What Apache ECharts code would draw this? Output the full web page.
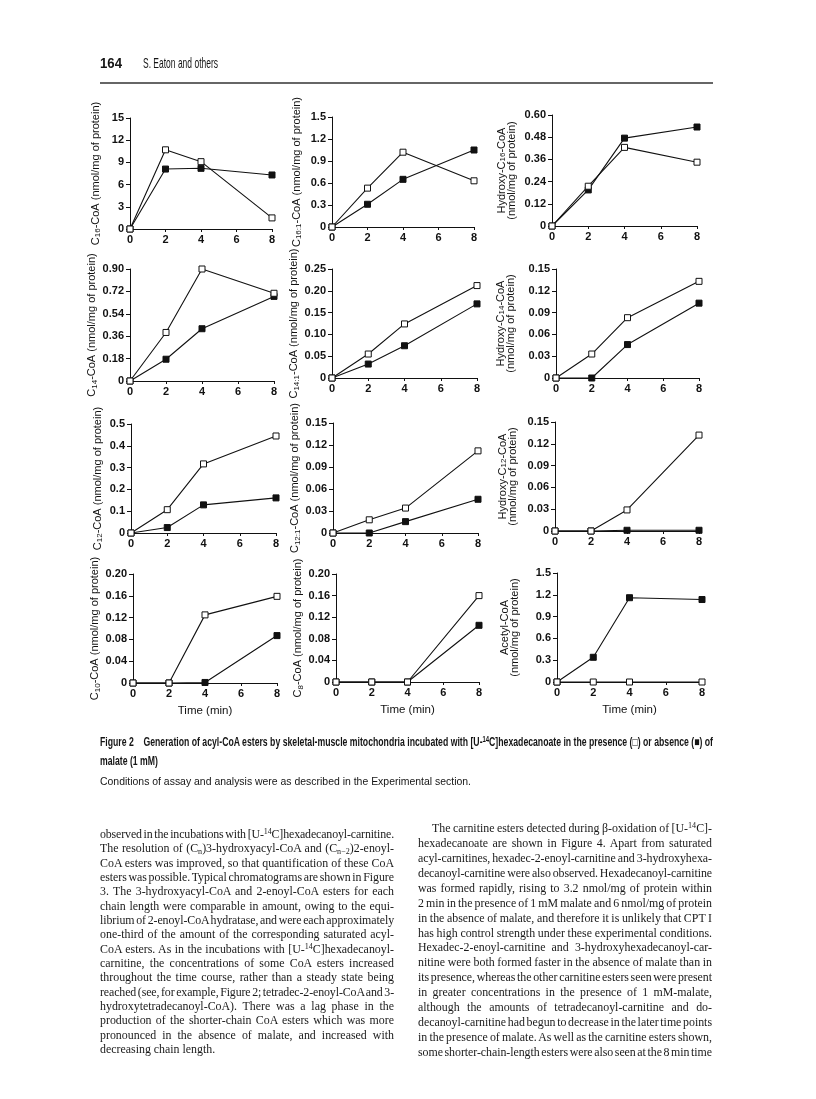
<!DOCTYPE html>
<html><head><meta charset="utf-8">
<script src="https://cdn.jsdelivr.net/npm/echarts@6/dist/echarts.min.js"></script>
<style>
body{margin:0;background:#fff;}
#page{position:relative;width:816px;height:1099px;overflow:hidden;background:#fff;}
#chart{position:absolute;left:0;top:0;width:816px;height:1099px;}
.t{position:absolute;color:#151515;white-space:nowrap;}
.cond{font-family:"Liberation Sans",Arial,sans-serif;transform-origin:0 50%;}
.body{font-family:"Liberation Serif","DejaVu Serif",serif;font-size:11.9px;color:#1a1a1a;line-height:14px;}
.line{position:absolute;width:294px;height:14px;text-align:justify;text-align-last:justify;white-space:nowrap;}
.last{text-align:left;text-align-last:left;}
sup{font-size:0.68em;vertical-align:0.45em;line-height:0;}
sub{font-size:0.68em;vertical-align:-0.2em;line-height:0;}
</style>
</head><body>
<div id="page">
<div id="chart"></div>
<div class="t cond fit" data-w="22" style="left:100px;top:54px;font-size:15px;font-weight:bold;">164</div>
<div class="t cond fit" data-w="75" style="left:143px;top:54px;font-size:15px;">S. Eaton and others</div>
<div style="position:absolute;left:100px;top:82px;width:613px;height:2px;background:#666;"></div>

<div class="t cond fit" data-w="613" style="left:100px;top:735px;font-size:12px;font-weight:bold;">Figure 2&nbsp;&nbsp;&nbsp; Generation of acyl-CoA esters by skeletal-muscle mitochondria incubated with [U-<sup>14</sup>C]hexadecanoate in the presence (□) or absence (■) of</div>
<div class="t cond" id="mal" style="left:100px;top:754px;font-size:12px;font-weight:bold;">malate (1 mM)</div>
<div class="t cond fit" data-w="371" style="left:100px;top:775px;font-size:11px;">Conditions of assay and analysis were as described in the Experimental section.</div>

<div class="body" id="left">
<div class="line" style="left:100px;top:827px">observed in the incubations with [U-<sup>14</sup>C]hexadecanoyl-carnitine.</div>
<div class="line" style="left:100px;top:841.3px">The resolution of (C<sub>n</sub>)3-hydroxyacyl-CoA and (C<sub>n−2</sub>)2-enoyl-</div>
<div class="line" style="left:100px;top:855.7px">CoA esters was improved, so that quantification of these CoA</div>
<div class="line" style="left:100px;top:870px">esters was possible. Typical chromatograms are shown in Figure</div>
<div class="line" style="left:100px;top:884.3px">3. The 3-hydroxyacyl-CoA and 2-enoyl-CoA esters for each</div>
<div class="line" style="left:100px;top:898.7px">chain length were comparable in amount, owing to the equi-</div>
<div class="line" style="left:100px;top:913px">librium of 2-enoyl-CoA hydratase, and were each approximately</div>
<div class="line" style="left:100px;top:927.3px">one-third of the amount of the corresponding saturated acyl-</div>
<div class="line" style="left:100px;top:941.7px">CoA esters. As in the incubations with [U-<sup>14</sup>C]hexadecanoyl-</div>
<div class="line" style="left:100px;top:956px">carnitine, the concentrations of some CoA esters increased</div>
<div class="line" style="left:100px;top:970.3px">throughout the time course, rather than a steady state being</div>
<div class="line" style="left:100px;top:984.7px">reached (see, for example, Figure 2; tetradec-2-enoyl-CoA and 3-</div>
<div class="line" style="left:100px;top:999px">hydroxytetradecanoyl-CoA). There was a lag phase in the</div>
<div class="line" style="left:100px;top:1013.3px">production of the shorter-chain CoA esters which was more</div>
<div class="line" style="left:100px;top:1027.7px">pronounced in the absence of malate, and increased with</div>
<div class="line last" style="left:100px;top:1042px">decreasing chain length.</div>
</div>
<div class="body" id="right">
<div class="line" style="left:432px;top:821px;width:280px">The carnitine esters detected during β-oxidation of [U-<sup>14</sup>C]-</div>
<div class="line" style="left:418px;top:836px">hexadecanoate are shown in Figure 4. Apart from saturated</div>
<div class="line" style="left:418px;top:850.9px">acyl-carnitines, hexadec-2-enoyl-carnitine and 3-hydroxyhexa-</div>
<div class="line" style="left:418px;top:865.8px">decanoyl-carnitine were also observed. Hexadecanoyl-carnitine</div>
<div class="line" style="left:418px;top:880.7px">was formed rapidly, rising to 3.2 nmol/mg of protein within</div>
<div class="line" style="left:418px;top:895.6px">2 min in the presence of 1 mM malate and 6 nmol/mg of protein</div>
<div class="line" style="left:418px;top:910.6px">in the absence of malate, and therefore it is unlikely that CPT I</div>
<div class="line" style="left:418px;top:925.5px">has high control strength under these experimental conditions.</div>
<div class="line" style="left:418px;top:940.4px">Hexadec-2-enoyl-carnitine and 3-hydroxyhexadecanoyl-car-</div>
<div class="line" style="left:418px;top:955.3px">nitine were both formed faster in the absence of malate than in</div>
<div class="line" style="left:418px;top:970.2px">its presence, whereas the other carnitine esters seen were present</div>
<div class="line" style="left:418px;top:985.2px">in greater concentrations in the presence of 1 mM-malate,</div>
<div class="line" style="left:418px;top:1000px">although the amounts of tetradecanoyl-carnitine and do-</div>
<div class="line" style="left:418px;top:1015px">decanoyl-carnitine had begun to decrease in the later time points</div>
<div class="line" style="left:418px;top:1030px">in the presence of malate. As well as the carnitine esters shown,</div>
<div class="line" style="left:418px;top:1045px">some shorter-chain-length esters were also seen at the 8 min time</div>
</div>
</div>
<script>
// ---- data ----
const times = [0, 2, 4, 8];
const xTickLabels = ['0', '2', '4', '6', '8'];

const c16Presence   = [0, 10.7, 9.1, 1.5];
const c16Absence    = [0, 8.1, 8.2, 7.3];
const c161Presence  = [0, 0.53, 1.02, 0.63];
const c161Absence   = [0, 0.31, 0.65, 1.05];
const hc16Presence  = [0, 0.215, 0.425, 0.345];
const hc16Absence   = [0, 0.195, 0.475, 0.535];
const c14Presence   = [0, 0.39, 0.90, 0.705];
const c14Absence    = [0, 0.175, 0.42, 0.68];
const c141Presence  = [0, 0.055, 0.124, 0.212];
const c141Absence   = [0, 0.032, 0.074, 0.17];
const hc14Presence  = [0, 0.033, 0.083, 0.133];
const hc14Absence   = [0, 0, 0.046, 0.103];
const c12Presence   = [0, 0.107, 0.317, 0.445];
const c12Absence    = [0, 0.025, 0.129, 0.161];
const c121Presence  = [0, 0.018, 0.034, 0.112];
const c121Absence   = [0, 0, 0.0155, 0.046];
const hc12Presence  = [0, 0, 0.029, 0.132];
const hc12Absence   = [0, 0, 0.001, 0.001];
const c10Presence   = [0, 0, 0.125, 0.159];
const c10Absence    = [0, 0, 0.001, 0.087];
const c8Presence    = [0, 0, 0, 0.16];
const c8Absence     = [0, 0, 0, 0.105];
const acetylPresence = [0, 0, 0, 0];
const acetylAbsence  = [0, 0.34, 1.16, 1.135];

const yMax      = [15, 1.5, 0.60, 0.90, 0.25, 0.15, 0.5, 0.15, 0.15, 0.20, 0.20, 1.5];
const yStep     = [3, 0.3, 0.12, 0.18, 0.05, 0.03, 0.1, 0.03, 0.03, 0.04, 0.04, 0.3];
const yDecimals = [0, 1, 2, 2, 2, 2, 1, 2, 2, 2, 2, 1];

const yNames = [
  '{n|C}{s|16}{n|-CoA (nmol/mg of protein)}',
  '{n|C}{s|16:1}{n|-CoA (nmol/mg of protein)}',
  '{n|Hydroxy-C}{s|16}{n|-CoA}\n{n|(nmol/mg of protein)}',
  '{n|C}{s|14}{n|-CoA (nmol/mg of protein)}',
  '{n|C}{s|14:1}{n|-CoA (nmol/mg of protein)}',
  '{n|Hydroxy-C}{s|14}{n|-CoA}\n{n|(nmol/mg of protein)}',
  '{n|C}{s|12}{n|-CoA (nmol/mg of protein)}',
  '{n|C}{s|12:1}{n|-CoA (nmol/mg of protein)}',
  '{n|Hydroxy-C}{s|12}{n|-CoA}\n{n|(nmol/mg of protein)}',
  '{n|C}{s|10}{n|-CoA (nmol/mg of protein)}',
  '{n|C}{s|8}{n|-CoA (nmol/mg of protein)}',
  '{n|Acetyl-CoA}\n{n|(nmol/mg of protein)}'
];
const presence = [c16Presence, c161Presence, hc16Presence, c14Presence, c141Presence, hc14Presence,
  c12Presence, c121Presence, hc12Presence, c10Presence, c8Presence, acetylPresence];
const absence = [c16Absence, c161Absence, hc16Absence, c14Absence, c141Absence, hc14Absence,
  c12Absence, c121Absence, hc12Absence, c10Absence, c8Absence, acetylAbsence];
const xName = 'Time (min)';

// ---- layout (pixels): [axisX, x8, top, zeroY] ----
const boxes = [
  [130, 272, 118, 229], [332, 474, 117, 227], [552, 697, 115, 226],
  [130, 274, 269, 381], [332, 477, 269, 378], [556, 699, 269, 378],
  [131, 276, 424, 533], [333, 478, 423, 533], [555, 699, 422, 531],
  [133, 277, 574, 683], [336, 479, 574, 682], [557, 702, 573, 682]
];
const nameCenters = [34, 35, 45, 34.5, 35.5, 50, 33, 35.5, 47, 36, 37.5, 47];

const INK = '#111';
const grid = [], xAxis = [], yAxis = [], series = [];
boxes.forEach((b, i) => {
  const twoLine = yNames[i].indexOf('\n') >= 0;
  grid.push({ left: b[0], width: b[1] - b[0], top: b[2], height: b[3] - b[2], containLabel: false });
  xAxis.push({
    gridIndex: i, type: 'value', min: 0, max: 8, interval: 2,
    name: i >= 9 ? xName : '', nameLocation: 'middle', nameGap: 22,
    nameTextStyle: { fontFamily: 'Liberation Sans', fontSize: 11.5, color: INK },
    axisLine: { show: true, onZero: false, lineStyle: { color: INK, width: 1 } },
    axisTick: { show: true, length: 3, lineStyle: { color: INK } },
    splitLine: { show: false },
    axisLabel: { margin: 5, color: INK, fontFamily: 'Liberation Sans', fontWeight: 'bold', fontSize: 11,
      formatter: v => xTickLabels[v / 2] }
  });
  yAxis.push({
    gridIndex: i, type: 'value', min: 0, max: yMax[i], interval: yStep[i],
    name: yNames[i], nameLocation: 'middle', nameRotate: 90,
    nameGap: nameCenters[i] - (twoLine ? 10 : 6),
    nameTextStyle: {
      color: INK, align: 'center',
      rich: {
        n: { fontFamily: 'Liberation Sans', fontSize: 11, color: INK, lineHeight: twoLine ? 10 : 13, verticalAlign: 'middle' },
        s: { fontFamily: 'Liberation Sans', fontSize: 8, color: INK, lineHeight: twoLine ? 10 : 13, verticalAlign: 'bottom' }
      }
    },
    axisLine: { show: true, lineStyle: { color: INK, width: 1 } },
    axisTick: { show: true, length: 4, lineStyle: { color: INK } },
    splitLine: { show: false },
    axisLabel: { margin: 6, color: INK, fontFamily: 'Liberation Sans', fontWeight: 'bold', fontSize: 11,
      formatter: v => (v === 0 ? '0' : v.toFixed(yDecimals[i])) }
  });
  const mk = (arr, filled) => ({
    type: 'line', xAxisIndex: i, yAxisIndex: i,
    data: times.map((t, j) => [t, arr[j]]),
    symbol: 'rect', symbolSize: 6, clip: false,
    lineStyle: { color: INK, width: 1.1 },
    itemStyle: { color: filled ? INK : '#fff', borderColor: INK, borderWidth: 1 },
    emphasis: { disabled: true }, animation: false, z: filled ? 3 : 4
  });
  series.push(mk(absence[i], true), mk(presence[i], false));
});

const chart = echarts.init(document.getElementById('chart'), null, { renderer: 'canvas' });
chart.setOption({ animation: false, backgroundColor: '#fff', grid, xAxis, yAxis, series });

// condensed-looking headings: horizontally scale to the measured widths
let capScale = 1;
document.querySelectorAll('.fit').forEach(el => {
  const w = el.getBoundingClientRect().width;
  const s = parseFloat(el.dataset.w) / w;
  el.style.transform = 'scaleX(' + s + ')';
  if (el.dataset.w === '613') capScale = s;
});
document.getElementById('mal').style.transform = 'scaleX(' + capScale + ')';

// body text: tighten spacing only on lines that are too long, then justify
document.querySelectorAll('.line').forEach(el => {
  const tw = el.style.width ? parseFloat(el.style.width) : 294;
  el.style.width = 'auto';
  const w = el.getBoundingClientRect().width;
  el.style.width = tw + 'px';
  const deficit = w - (tw - 1.5);
  if (deficit > 0) {
    const spaces = (el.textContent.match(/ /g) || []).length;
    const ws = Math.max(-1.4, -deficit / Math.max(1, spaces));
    el.style.wordSpacing = ws + 'px';
    const rem = deficit + ws * spaces;
    if (rem > 0) el.style.letterSpacing = (-rem / el.textContent.length) + 'px';
  }
});
</script>
</body></html>
